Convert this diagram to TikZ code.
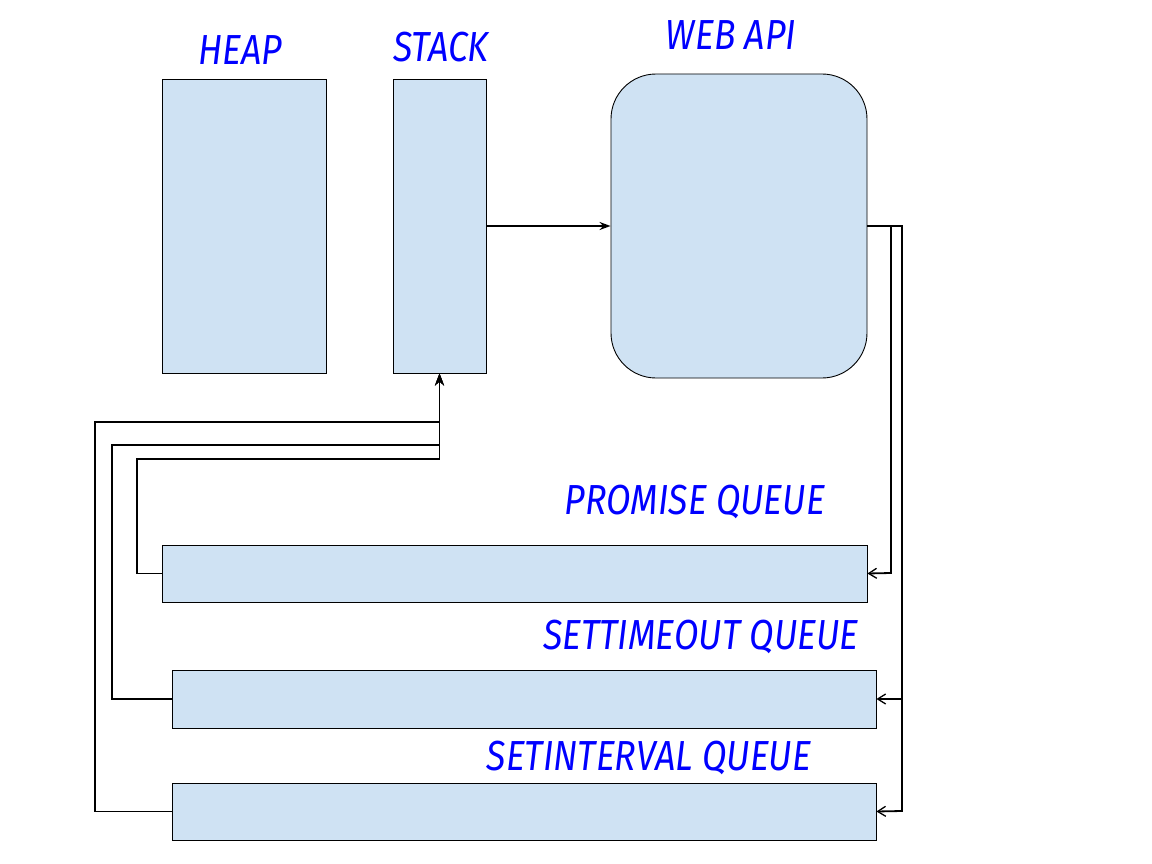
\documentclass[tikz,border=0pt]{standalone}
\usepackage{fontspec}
\setsansfont{Fira Sans}
\usetikzlibrary{arrows.meta}
\definecolor{boxfill}{HTML}{CFE2F3}
\definecolor{lblue}{HTML}{0000FF}
\tikzset{
  box/.style={draw=black, fill=boxfill, line width=0.9pt, inner sep=0pt},
  lbl/.style={text=lblue, font=\sffamily\itshape\fontsize{42}{46}\selectfont, inner sep=0pt},
  conn/.style={draw=black, line width=1.8pt},
  tipleft/.style={-{Straight Barb[length=8pt,width=10pt,line width=1.3pt]}},
  tipup/.style={-{Stealth[length=12pt,width=9pt]}}
}
\begin{document}
\begin{tikzpicture}[x=1pt,y=-1pt]
\useasboundingbox (0,0) rectangle (1152,864);
% boxes
\node[box, minimum width=164pt, minimum height=294pt] (heap) at (244,226) {};
\node[box, minimum width=93pt, minimum height=294pt] (stack) at (439.5,226) {};
\node[box, rounded corners=45pt, minimum width=256pt, minimum height=304pt] (web) at (739,226) {};
\node[box, minimum width=705pt, minimum height=57pt] (pq) at (514.5,573.5) {};
\node[box, minimum width=704pt, minimum height=58pt] (tq) at (524,699) {};
\node[box, minimum width=704pt, minimum height=57pt] (iq) at (524,811.5) {};
% labels
\node[lbl] (lheap) at (240,50) {\scalebox{0.85}[1]{HEAP}};
\node[lbl] (lstack) at (441,47) {\scalebox{0.85}[1]{STACK}};
\node[lbl] (lweb) at (731,35) {\scalebox{0.85}[1]{WEB API}};
\node[lbl] (lpq) at (695,502) {\scalebox{0.85}[1]{PROMISE QUEUE}};
\node[lbl] (ltq) at (701,637) {\scalebox{0.85}[1]{SETTIMEOUT QUEUE}};
\node[lbl] (liq) at (649,758) {\scalebox{0.85}[1]{SETINTERVAL QUEUE}};
% coordinates
\coordinate (ws) at (web.east);
\coordinate (sb) at (stack.south);
% stack -> web
\draw[conn, -{Stealth[length=11pt,width=8pt]}] (stack.east) -- (web.west);
% right side
\draw[conn, tipleft] (ws) -| (891,573) -- (pq.east);
\draw[conn, tipleft] (ws) -| (902,699) -- (tq.east);
\draw[conn, tipleft] (ws) -| (902,811) -- (iq.east);
% left side
\draw[conn, tipup] (pq.west) -| (137,459) -| (sb);
\draw[conn, tipup] (tq.west) -| (112,445) -| (sb);
\draw[conn, tipup] (iq.west) -| (95,422) -| (sb);
\end{tikzpicture}
\end{document}
